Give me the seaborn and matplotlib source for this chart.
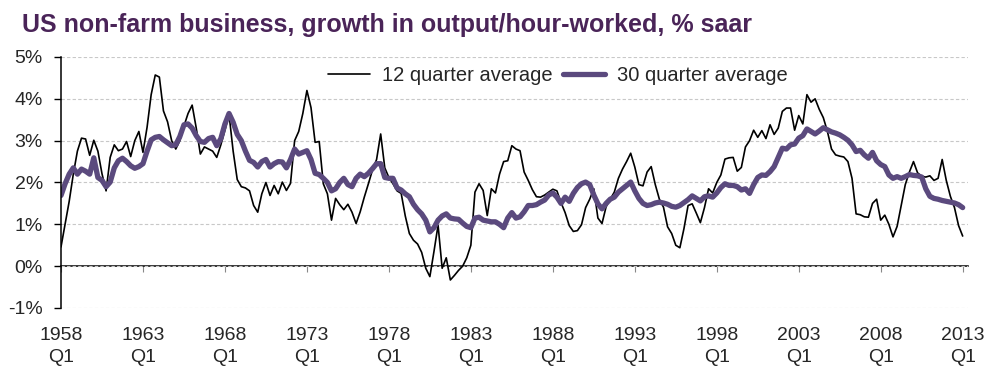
import matplotlib
matplotlib.use("Agg")
import matplotlib.pyplot as plt
import numpy as np
import pandas as pd
import seaborn as sns

# quarterly, 1958 Q1 .. 2013 Q1 (one row per year)
twelve_q = [
    0.46, 1.00, 1.55, 2.20,  # 1958
    2.75, 3.06, 3.04, 2.65,
    3.01, 2.75, 2.21, 1.80,  # 1960
    2.60, 2.90, 2.76, 2.80,
    2.98, 2.62, 3.00, 3.22,
    2.72, 3.32, 4.10, 4.57,  # 1963
    4.52, 3.71, 3.45, 3.00,
    2.80, 3.00, 3.35, 3.65,
    3.85, 3.30, 2.68, 2.85,
    2.80, 2.75, 2.60, 2.90,
    3.25, 3.63, 2.75, 2.07,  # 1968
    1.90, 1.87, 1.80, 1.45,
    1.29, 1.73, 2.00, 1.69,  # 1970
    1.93, 1.73, 2.01, 1.81,
    1.98, 3.00, 3.22, 3.65,
    4.20, 3.79, 2.96, 2.98,  # 1973
    1.97, 1.73, 1.10, 1.62,
    1.47, 1.35, 1.48, 1.29,
    1.02, 1.30, 1.65, 1.97,
    2.30, 2.55, 3.16, 2.35,
    2.12, 1.97, 1.80, 1.74,  # 1978
    1.20, 0.78, 0.62, 0.53,
    0.33, -0.05, -0.25, 0.35,  # 1980
    0.98, -0.05, 0.20, -0.33,
    -0.22, -0.10, 0.00, 0.20,
    0.50, 1.77, 1.97, 1.81,  # 1983
    1.21, 1.85, 1.75, 2.20,
    2.50, 2.52, 2.88, 2.80,
    2.76, 2.25, 2.05, 1.83,
    1.66, 1.65, 1.70, 1.77,
    1.84, 1.80, 1.52, 1.28,  # 1988
    0.97, 0.83, 0.85, 0.99,
    1.40, 1.60, 1.85, 1.15,  # 1990
    1.02, 1.42, 1.60, 1.77,
    2.10, 2.32, 2.50, 2.70,
    2.37, 1.95, 1.92, 2.25,  # 1993
    2.38, 1.95, 1.60, 1.41,
    0.94, 0.78, 0.50, 0.44,
    0.90, 1.45, 1.49, 1.27,
    1.04, 1.40, 1.85, 1.75,
    2.00, 2.18, 2.56, 2.59,  # 1998
    2.60, 2.27, 2.36, 2.85,
    3.00, 3.25, 3.08, 3.24,  # 2000
    3.05, 3.38, 3.15, 3.30,
    3.70, 3.78, 3.78, 3.25,
    3.60, 3.40, 4.10, 3.92,  # 2003
    4.00, 3.75, 3.55, 3.22,
    2.80, 2.66, 2.63, 2.61,
    2.50, 2.10, 1.25, 1.23,
    1.18, 1.17, 1.50, 1.60,
    1.10, 1.22, 1.00, 0.70,  # 2008
    0.95, 1.45, 1.95, 2.25,
    2.50, 2.23, 2.15, 2.13,  # 2010
    2.16, 2.05, 2.10, 2.55,
    2.05, 1.67, 1.40, 0.97,
    0.72,  # 2013 Q1
]

thirty_q = [
    1.69, 1.97, 2.20, 2.35,  # 1958
    2.20, 2.32, 2.27, 2.20,
    2.59, 2.12, 2.05, 1.90,  # 1960
    2.01, 2.35, 2.52, 2.58,
    2.50, 2.40, 2.34, 2.38,
    2.45, 2.75, 3.02, 3.08,  # 1963
    3.10, 3.02, 2.95, 2.88,
    2.90, 3.10, 3.38, 3.40,
    3.30, 3.12, 2.98, 2.96,
    3.05, 3.08, 2.88, 3.05,
    3.40, 3.65, 3.44, 3.15,  # 1968
    3.00, 2.75, 2.53, 2.48,
    2.37, 2.50, 2.55, 2.37,  # 1970
    2.45, 2.50, 2.49, 2.35,
    2.55, 2.80, 2.68, 2.72,
    2.76, 2.55, 2.22, 2.19,  # 1973
    2.10, 2.00, 1.80, 1.85,
    2.00, 2.10, 1.95, 1.90,
    2.10, 2.20, 2.14, 2.22,
    2.33, 2.45, 2.45, 2.12,
    2.10, 2.10, 1.87, 1.82,  # 1978
    1.73, 1.66, 1.48, 1.35,
    1.25, 1.10, 0.82, 0.92,  # 1980
    1.10, 1.20, 1.25, 1.15,
    1.13, 1.12, 1.03, 0.95,
    0.92, 1.15, 1.17, 1.10,  # 1983
    1.08, 1.06, 1.06, 1.00,
    0.92, 1.15, 1.28, 1.15,
    1.18, 1.30, 1.45, 1.45,
    1.47, 1.53, 1.58, 1.70,
    1.75, 1.65, 1.50, 1.65,  # 1988
    1.55, 1.74, 1.88, 1.97,
    2.01, 1.95, 1.70, 1.49,  # 1990
    1.37, 1.50, 1.60, 1.65,
    1.77, 1.85, 1.93, 2.01,
    1.80, 1.62, 1.50, 1.45,  # 1993
    1.47, 1.51, 1.53, 1.51,
    1.48, 1.43, 1.41, 1.45,
    1.52, 1.59, 1.68, 1.62,
    1.56, 1.66, 1.68, 1.65,
    1.75, 1.88, 1.97, 1.93,  # 1998
    1.93, 1.90, 1.82, 1.85,
    1.74, 1.95, 2.12, 2.18,  # 2000
    2.17, 2.26, 2.38, 2.60,
    2.82, 2.80, 2.90, 2.92,
    3.06, 3.12, 3.28, 3.22,  # 2003
    3.16, 3.23, 3.31, 3.26,
    3.21, 3.18, 3.14, 3.08,
    3.01, 2.90, 2.74, 2.77,
    2.66, 2.58, 2.72, 2.52,
    2.43, 2.38, 2.18, 2.10,  # 2008
    2.14, 2.10, 2.14, 2.19,
    2.17, 2.16, 2.13, 1.85,  # 2010
    1.67, 1.62, 1.60, 1.57,
    1.55, 1.53, 1.51, 1.47,
    1.40,  # 2013 Q1
]

tick_years = list(range(1958, 2014, 5))
title = "US non-farm business, growth in output/hour-worked, % saar"
purple = "#5b4a7e"
title_color = "#4a2458"

sns.set_theme(style="white")
plt.rcParams["font.family"] = ["Liberation Sans", "DejaVu Sans"]

df = pd.DataFrame({
    "q": np.arange(len(twelve_q)),
    "twelve": twelve_q,
    "thirty": thirty_q,
})

fig = plt.figure(figsize=(9.97, 3.8), dpi=100)
ax = fig.add_axes([61 / 997, 1 - 308 / 380, 907 / 997, 251 / 380])

sns.lineplot(data=df, x="q", y="twelve", ax=ax, color="black", lw=1.2,
             label="12 quarter average")
sns.lineplot(data=df, x="q", y="thirty", ax=ax, color=purple, lw=3.8,
             label="30 quarter average")

ax.set_xlim(0, 221.3)
ax.set_ylim(-1, 5)
ax.set_xlabel("")
ax.set_ylabel("")

ax.set_yticks(range(-1, 6))
ax.set_yticklabels([f"{v}%" for v in range(-1, 6)])
ax.yaxis.grid(True, color="#c8c8c8", linestyle=(0, (3, 2)), lw=0.8)
ax.xaxis.grid(False)
ax.set_axisbelow(True)

for s in ["top", "right", "bottom"]:
    ax.spines[s].set_visible(False)
ax.spines["left"].set_color("black")
ax.spines["left"].set_linewidth(1.1)

# year labels along the bottom of the axes
ticks_q = [(y - 1958) * 4 for y in tick_years]
ax.set_xticks(ticks_q)
ax.set_xticklabels([f"{y}\nQ1" for y in tick_years],
                   multialignment="center", linespacing=1.35)
ax.tick_params(axis="x", length=0, labelsize=14, pad=14)
ax.tick_params(axis="y", direction="out", length=5, width=1.0,
               color="black", labelsize=14, pad=8, left=True)

# zero line carrying the small tick marks
zero_pos = (0 - (-1)) / (5 - (-1))
zax = ax.secondary_xaxis(zero_pos)
zax.set_xticks(ticks_q)
zax.tick_params(direction="out", length=4, width=0.8, color="#888888",
                labelbottom=False, labeltop=False)
zax.spines["bottom"].set_color("black")
zax.spines["bottom"].set_linewidth(1.1)
zax.spines["top"].set_visible(False)

ax.legend(loc="center left", bbox_to_anchor=(328 / 997, 1 - 75.6 / 380),
          bbox_transform=fig.transFigure, ncol=2, frameon=False,
          fontsize=14.5, handlelength=2.1, handletextpad=0.6,
          columnspacing=0.5, borderpad=0, borderaxespad=0)

fig.text(22 / 997, 1 - 31.7 / 380, title, fontsize=18, fontweight="bold",
         color=title_color, va="baseline", ha="left")

fig.savefig("out.png", dpi=100)
